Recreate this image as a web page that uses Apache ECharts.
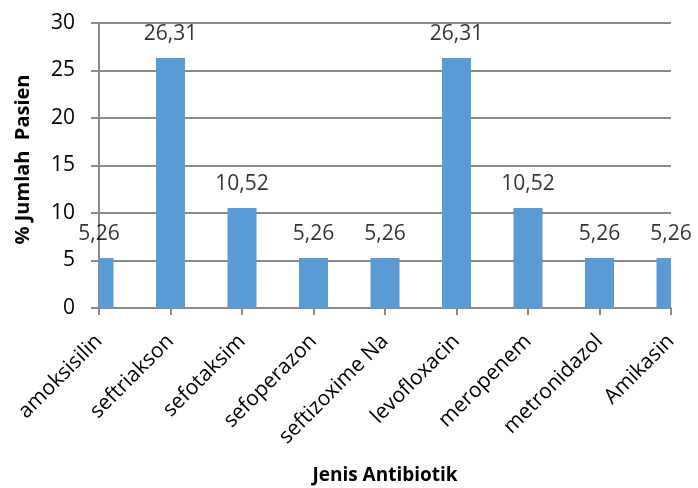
<!DOCTYPE html>
<html>
<head>
<meta charset="utf-8">
<script src="https://cdn.jsdelivr.net/npm/echarts@6/dist/echarts.min.js"></script>
<style>
  html, body { margin: 0; padding: 0; background: #fff; }
  #chart { width: 698px; height: 488px; }
</style>
</head>
<body>
<div id="chart"></div>
<script>
// Antibiotic usage, percentage of patients
const categories = ['amoksisilin', 'seftriakson', 'sefotaksim', 'sefoperazon', 'seftizoxime Na',
                    'levofloxacin', 'meropenem', 'metronidazol', 'Amikasin'];
const percentValues = [5.26, 26.31, 10.52, 5.26, 5.26, 26.31, 10.52, 5.26, 5.26];
const yTicks = { min: 0, max: 30, interval: 5 };

const FONT = '"Open Sans", "Liberation Sans", sans-serif';
const GRID_COLOR = '#8a8a8a';
const BAR_COLOR = '#5B9BD5';
const BAR_WIDTH = 29;

const chart = echarts.init(document.getElementById('chart'), null, { renderer: 'canvas' });

// Bars centred on the category ticks, cut off at the plot edges
function renderBar(params, api) {
  const top = api.coord([api.value(0), api.value(1)]);
  const base = api.coord([api.value(0), 0]);
  const cs = params.coordSys;
  const rect = echarts.graphic.clipRectByRect(
    { x: top[0] - BAR_WIDTH / 2, y: top[1], width: BAR_WIDTH, height: base[1] - top[1] },
    { x: cs.x, y: cs.y, width: cs.width, height: cs.height }
  );
  if (!rect) return null;
  return { type: 'rect', shape: rect, style: { fill: BAR_COLOR } };
}

chart.setOption({
  animation: false,
  backgroundColor: '#ffffff',
  grid: { left: 99, right: 27, top: 23, bottom: 180, containLabel: false, outerBoundsMode: 'none' },
  xAxis: {
    type: 'category',
    data: categories,
    boundaryGap: false,
    name: 'Jenis Antibiotik',
    nameLocation: 'middle',
    nameGap: 158,
    nameTextStyle: { fontFamily: FONT, fontSize: 19, fontWeight: 'bold', color: '#000' },
    axisLine: { show: true, lineStyle: { color: GRID_COLOR, width: 2 } },
    axisTick: { show: true, alignWithLabel: true, length: 7, lineStyle: { color: GRID_COLOR, width: 2 } },
    axisLabel: {
      interval: 0,
      rotate: 45,
      margin: 30,
      fontFamily: FONT,
      fontSize: 21,
      color: '#000'
    },
    splitLine: { show: false }
  },
  yAxis: {
    type: 'value',
    min: yTicks.min,
    max: yTicks.max,
    interval: yTicks.interval,
    name: '% Jumlah  Pasien',
    nameLocation: 'middle',
    nameGap: 66,
    nameRotate: 90,
    nameTextStyle: { fontFamily: FONT, fontSize: 20, fontWeight: 'bold', color: '#000', padding: [0, 0, 0, 12] },
    axisLine: { show: true, lineStyle: { color: GRID_COLOR, width: 2 } },
    axisTick: { show: true, length: 8, lineStyle: { color: GRID_COLOR, width: 2 } },
    axisLabel: { margin: 24, fontFamily: FONT, fontSize: 21, color: '#000' },
    splitLine: { show: true, lineStyle: { color: GRID_COLOR, width: 2 } }
  },
  series: [
    {
      type: 'custom',
      data: percentValues.map((v, i) => [i, v]),
      encode: { x: 0, y: 1 },
      renderItem: renderBar,
      silent: true
    },
    {
      // value labels, centred on each category
      type: 'scatter',
      data: percentValues,
      symbolSize: 0,
      silent: true,
      label: {
        show: true,
        position: 'top',
        distance: 14,
        formatter: p => p.value.toFixed(2).replace('.', ','),
        fontFamily: FONT,
        fontSize: 21,
        color: '#000'
      }
    }
  ]
});
</script>
</body>
</html>
